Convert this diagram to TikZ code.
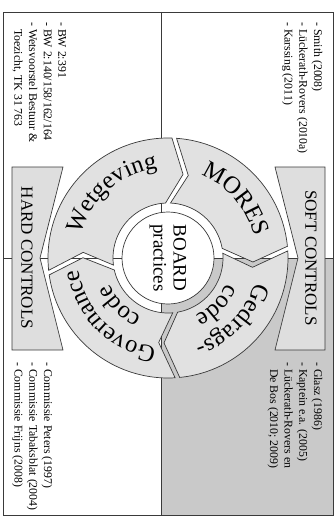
\documentclass[tikz,border=0pt]{standalone}
\usepackage{fontspec}
\setmainfont{Liberation Serif}
\usetikzlibrary{decorations.text}
\definecolor{inkline}{HTML}{3A3A3A}
\definecolor{segfill}{HTML}{E1E1E1}
\definecolor{quadfill}{HTML}{C9C9C9}
\definecolor{boxfill}{HTML}{DEDEDE}
\newcommand\ringfont{\fontsize{24.5}{26}\selectfont}

\begin{document}
\begin{tikzpicture}[x=1pt,y=-1pt,
  outerframe/.style={draw=inkline, line width=0.8pt},
  divider/.style={draw=inkline, line width=0.7pt},
  ctrlbox/.style={draw=inkline, fill=boxfill, line width=0.7pt, line join=miter},
  ctrllabel/.style={rotate=-90, font=\fontsize{17}{18}\selectfont, inner sep=0pt},
  reflist/.style={rotate=-90, anchor=north west, align=left, inner sep=0pt,
    font=\fontsize{11.8}{14.7}\selectfont},
  seg/.style={draw=inkline, fill=segfill, line width=0.7pt, line join=miter},
  hubstyle/.style={circle, draw=inkline, fill=white, line width=0.7pt,
    minimum size=92pt, inner sep=0pt, rotate=-90, align=center,
    font=\fontsize{19}{20}\selectfont},
  arctext/.style={decorate, decoration={text along path, text align=center, text={|\ringfont|#1}}}
]
\useasboundingbox (0,0) rectangle (336,519);

% quadrants: shaded lower-right field, dividers and frame
\fill[quadfill] (161,258) rectangle (333,515);
\draw[divider] (161,12) -- (161,515);
\draw[divider] (3,258) -- (333,258);
\draw[outerframe] (3,12) rectangle (333,515);

% control boxes with notched inner sides
\draw[ctrlbox] (12,167) -- (63,167) -- (40,258) -- (63,350) -- (12,350) -- cycle;
\node[ctrllabel] (hard) at (27,258) {HARD CONTROLS};
\draw[ctrlbox] (325,167) -- (275,167) -- (298,258) -- (275,350) -- (325,350) -- cycle;
\node[ctrllabel] (soft) at (311,258) {SOFT CONTROLS};

% reference lists
\node[reflist] (lawrefs) at (66.5,22) {- BW 2:391\\- BW 2:140/158/162/164\\- Wetsvoorstel Bestuur \&\\\phantom{- }Toezicht, TK 31 763};
\node[reflist] (morerefs) at (322.5,22) {- Smith (2008)\\- L\"uckerath-Rovers (2010a)\\- Karssing (2011)};
\node[reflist] (coderefs) at (52.5,362) {- Commissie Peters (1997)\\- Commissie Tabaksblat (2004)\\- Commissie Frijns (2008)};
\node[reflist] (ethicrefs) at (322.5,362) {- Glasz (1986)\\- Kaptein e.a. (2005)\\- L\"uckerath-Rovers en\\\phantom{- }De Bos (2010; 2009)};

% circular chain of four chevron segments
\begin{scope}[shift={(168,258)}]
  \foreach \a/\b in {173/273, 273/355.5, 355.5/445.5, 445.5/533} {
    \draw[seg]
      plot[domain=\a+1.1:\b-1.1, samples=50, variable=\t] ({120*cos(\t)},{120*sin(\t)})
      -- ({\b+9-1.8}:85) -- ({\b-3-2.6}:55)
      -- plot[domain=\b-3-2.6:\a-3+2.6, samples=40, variable=\t] ({55*cos(\t)},{55*sin(\t)})
      -- ({\a+9+1.8}:85) -- cycle;
  }
  \path[arctext=Wetgeving] plot[domain=169:289, samples=60, variable=\t] ({90*cos(\t)},{90*sin(\t)});
  \path[arctext=MORES] plot[domain=259:379, samples=60, variable=\t] ({89*cos(\t)},{89*sin(\t)});
  \path[arctext=Gedrags-] plot[domain=-16:104, samples=60, variable=\t] ({90*cos(\t)},{90*sin(\t)});
  \path[arctext=code] plot[domain=-16:104, samples=60, variable=\t] ({64*cos(\t)},{64*sin(\t)});
  \path[arctext=Governance] plot[domain=75:195, samples=60, variable=\t] ({90*cos(\t)},{90*sin(\t)});
  \path[arctext=code] plot[domain=75:195, samples=60, variable=\t] ({64*cos(\t)},{64*sin(\t)});
  \node[hubstyle] (hub) at (0,0) {BOARD\\practices};
\end{scope}
\end{tikzpicture}
\end{document}
